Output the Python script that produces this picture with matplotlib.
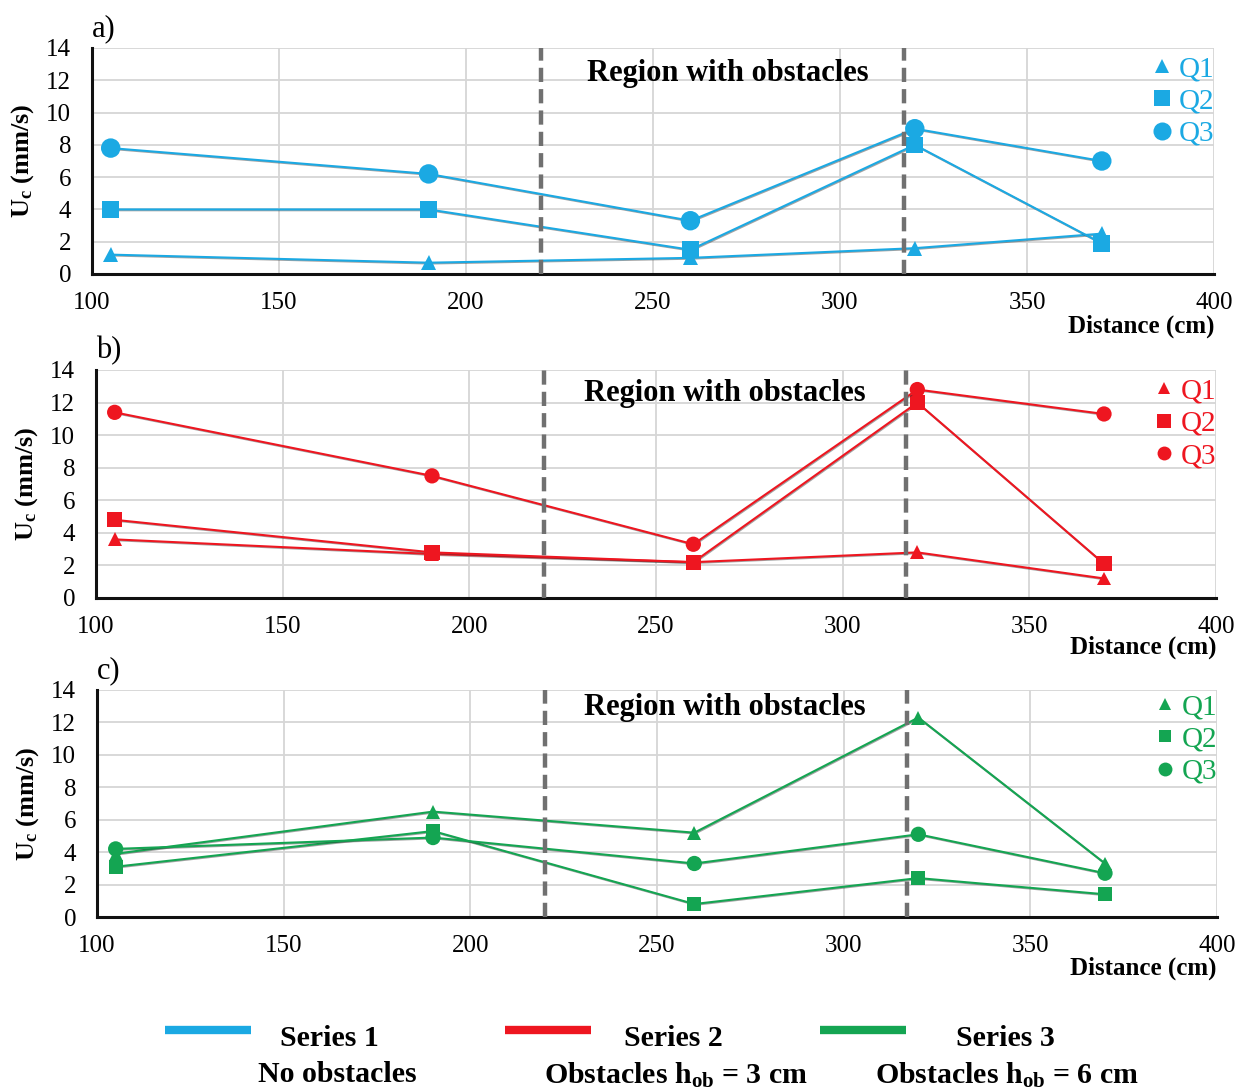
import matplotlib
matplotlib.use("Agg")
import matplotlib.pyplot as plt
import matplotlib.patheffects as pe
from matplotlib.lines import Line2D

plt.rcParams["font.family"] = ["Liberation Serif", "DejaVu Serif"]
plt.rcParams["mathtext.fontset"] = "custom"
plt.rcParams["mathtext.rm"] = "Liberation Serif"
plt.rcParams["mathtext.bf"] = "Liberation Serif:bold"
plt.rcParams["mathtext.it"] = "Liberation Serif:italic"

# Measurement stations along the flume (cm)
distance_cm = [105, 190, 260, 320, 370]

# Series 1: no obstacles
s1_q1 = [1.2, 0.7, 1.0, 1.6, 2.5]
s1_q2 = [4.0, 4.0, 1.5, 8.0, 1.9]
s1_q3 = [7.8, 6.2, 3.3, 9.0, 7.0]

# Series 2: obstacles h_ob = 3 cm
s2_q1 = [3.6, 2.7, 2.2, 2.8, 1.2]
s2_q2 = [4.8, 2.8, 2.2, 12.0, 2.1]
s2_q3 = [11.4, 7.5, 3.3, 12.8, 11.3]

# Series 3: obstacles h_ob = 6 cm
s3_q1 = [3.9, 6.5, 5.2, 12.3, 3.3]
s3_q2 = [3.1, 5.3, 0.8, 2.4, 1.4]
s3_q3 = [4.2, 4.9, 3.3, 5.1, 2.7]

# Limits of the obstacle region (cm)
region_start = 220
region_end = 317

panel_labels = ["a)", "b)", "c)"]
flow_labels = ["Q1", "Q2", "Q3"]
series_names = ["Series 1", "Series 2", "Series 3"]
series_desc = ["No obstacles",
               r"Obstacles $\mathbf{h_{ob}}$ = 3 cm",
               r"Obstacles $\mathbf{h_{ob}}$ = 6 cm"]
x_ticks = [100, 150, 200, 250, 300, 350, 400]
y_ticks = [0, 2, 4, 6, 8, 10, 12, 14]

colors = ["#1BA9E3", "#EE1620", "#14A552"]
markers = ["^", "s", "o"]

series = [
    [s1_q1, s1_q2, s1_q3],
    [s2_q1, s2_q2, s2_q3],
    [s3_q1, s3_q2, s3_q3],
]

W, H = 1240, 1091
fig = plt.figure(figsize=(W / 100, H / 100), dpi=100)

# axes boxes in pixels: left, right, top, bottom
boxes = [(92, 1214, 48, 274), (96, 1216, 370, 598), (97, 1217, 690, 917)]
msizes = [[11, 12, 14], [10, 11, 11], [10, 10, 11]]
region_pos = [(0.567, 0.885), (0.5616, 0.895), (0.5607, 0.925)]
legend_top = [0.965, 0.964, 0.983]
dist_y = [(326, 274), (647, 598), (968, 917)]

for i, (l, r, t, b) in enumerate(boxes):
    ax = fig.add_axes([l / W, 1 - b / H, (r - l) / W, (b - t) / H])
    col = colors[i]
    ax.set_xlim(100, 400)
    ax.set_ylim(0, 14)
    ax.set_xticks(x_ticks)
    ax.set_yticks(y_ticks)
    ax.grid(True, color="#d6d6d6", linewidth=1.3)
    ax.set_axisbelow(True)
    for side in ["top", "right"]:
        ax.spines[side].set_visible(False)
    for side in ["left", "bottom"]:
        ax.spines[side].set_linewidth(2.2)
        ax.spines[side].set_color("#111111")
    ax.tick_params(length=0, labelsize=18, pad=13)
    ax.tick_params(axis="y", pad=15)
    ax.set_ylabel(r"$\mathbf{U_c}$ (mm/s)", fontsize=19, fontweight="bold",
                  labelpad=7)

    for q, vals in enumerate(series[i]):
        ax.plot(distance_cm, vals, color=col, linewidth=1.5,
                marker=markers[q], markersize=msizes[i][q],
                markeredgewidth=0, zorder=3,
                path_effects=[pe.SimpleLineShadow(offset=(0.6, -0.6),
                                                  shadow_color="#333333",
                                                  alpha=0.45),
                              pe.Normal()])

    for xv in (region_start, region_end):
        ax.axvline(xv, color="#707070", linewidth=3.2,
                   linestyle=(0, (3.2, 1.6)), zorder=4, clip_on=False)

    rx, ry = region_pos[i]
    ax.text(rx, ry, "Region with obstacles", transform=ax.transAxes,
            ha="center", va="center", fontsize=22, fontweight="bold")
    ax.text(0.0, 1.02, panel_labels[i], transform=ax.transAxes,
            ha="left", va="bottom", fontsize=22)
    dy, by = dist_y[i]
    ax.text(1.0, -(dy - by) / (b - t), "Distance (cm)",
            transform=ax.transAxes, ha="right", va="center",
            fontsize=18, fontweight="bold")

    handles = [Line2D([], [], color=col, marker=markers[q], linestyle="none",
                      markersize=msizes[i][q] - 1, markeredgewidth=0)
               for q in range(3)]
    ax.legend(handles, flow_labels, loc="upper right",
              bbox_to_anchor=(1.0, legend_top[i]), frameon=False,
              fontsize=21, labelcolor=col, handlelength=0.6,
              handletextpad=0.25, labelspacing=0.2, borderpad=0.0,
              borderaxespad=0.0)

# bottom legend
bar_x = [165, 505, 820]
name_x = [329, 673, 1005]
desc_x = [337, 676, 1007]
for k in range(3):
    fig.add_artist(Line2D([bar_x[k] / W, (bar_x[k] + 86) / W],
                          [1 - 1030 / H, 1 - 1030 / H],
                          color=colors[k], linewidth=6,
                          solid_capstyle="butt"))
    fig.text(name_x[k] / W, 1 - 1038 / H, series_names[k], ha="center",
             va="center", fontsize=21.5, fontweight="bold")
    fig.text(desc_x[k] / W, 1 - 1075 / H, series_desc[k], ha="center",
             va="center", fontsize=21.5, fontweight="bold")

fig.savefig("out.png", dpi=100)
